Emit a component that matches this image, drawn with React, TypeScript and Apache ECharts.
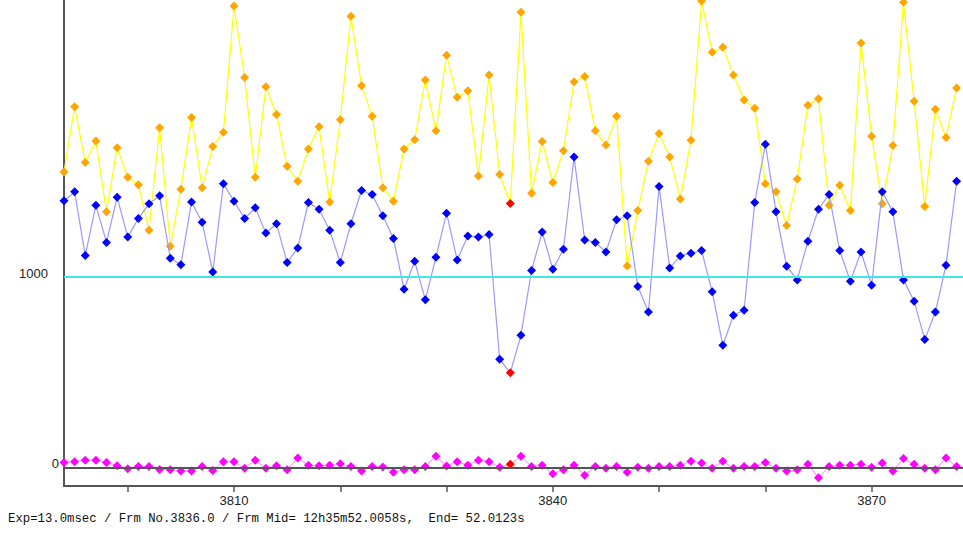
import React, { useEffect, useRef } from "react";
import * as echarts from "echarts";

const frames = [
  3794, 3795, 3796, 3797, 3798, 3799, 3800, 3801, 3802, 3803,
  3804, 3805, 3806, 3807, 3808, 3809, 3810, 3811, 3812, 3813,
  3814, 3815, 3816, 3817, 3818, 3819, 3820, 3821, 3822, 3823,
  3824, 3825, 3826, 3827, 3828, 3829, 3830, 3831, 3832, 3833,
  3834, 3835, 3836, 3837, 3838, 3839, 3840, 3841, 3842, 3843,
  3844, 3845, 3846, 3847, 3848, 3849, 3850, 3851, 3852, 3853,
  3854, 3855, 3856, 3857, 3858, 3859, 3860, 3861, 3862, 3863,
  3864, 3865, 3866, 3867, 3868, 3869, 3870, 3871, 3872, 3873,
  3874, 3875, 3876, 3877, 3878,
];

const upperValues = [
  1554, 1896, 1604, 1716, 1344, 1681, 1526, 1486, 1247, 1786,
  1163, 1463, 1840, 1470, 1688, 1763, 2426, 2051, 1526, 2002,
  1856, 1583, 1505, 1674, 1791, 1395, 1828, 2372, 2007, 1847,
  1470, 1400, 1674, 1723, 2037, 1770, 2168, 1946, 1981, 1533,
  2063, 1540, 1388, 2393, 1442, 1714, 1498, 1665, 2028, 2056,
  1770, 1695, 1847, 1059, 1351, 1610, 1756, 1632, 1412, 1721,
  2453, 2183, 2210, 2063, 1932, 1889, 1491, 1449, 1272, 1517,
  1904, 1938, 1379, 1484, 1351, 2232, 1742, 1386, 1693, 2446,
  1925, 1372, 1883, 1735, 1995,
];

const middleValues = [
  1402, 1449, 1114, 1379, 1183, 1421, 1212, 1309, 1386, 1428,
  1100, 1065, 1395, 1289, 1028, 1491, 1400, 1309, 1365, 1232,
  1281, 1077, 1154, 1393, 1358, 1247, 1077, 1281, 1456, 1435,
  1323, 1204, 937, 1084, 881, 1105, 1337, 1091, 1217, 1211,
  1225, 568, 498, 695, 1035, 1238, 1042, 1147, 1632, 1196,
  1183, 1133, 1302, 1323, 951, 817, 1477, 1049, 1112, 1126,
  1140, 923, 642, 800, 826, 1393, 1700, 1344, 1058, 986,
  1189, 1358, 1435, 1140, 979, 1133, 958, 1449, 1344, 986,
  874, 672, 817, 1063, 1505,
];

const lowerValues = [
  25, 30, 38, 38, 25, 9, -7, 4, 4, -11,
  -12, -19, -19, 4, -17, 30, 30, -5, 38, -5,
  9, -12, 49, 11, 9, 11, 19, 4, -19, 4,
  2, -26, -12, -12, 4, 59, 7, 30, 11, 38,
  30, 0, 17, 59, 4, 11, -33, -12, 11, -41,
  4, -5, 4, -26, 0, -5, 4, 4, 11, 32,
  23, -5, 32, -4, 4, 4, 25, -5, -19, -12,
  17, -54, 4, 11, 11, 17, 0, 23, -19, 46,
  17, -5, -12, 49, 4,
];

const currentFrame = 3836;
const xTicks = [3800, 3810, 3820, 3830, 3840, 3850, 3860, 3870];
const xLabels = [3810, 3840, 3870];
const yLabels = [0, 1000];
const referenceLevel = 1000;
const infoText =
  "Exp=13.0msec / Frm No.3836.0 / Frm Mid= 12h35m52.0058s,  End= 52.0123s";

function buildData(values: number[]) {
  return frames.map((f, i) => ({
    value: [f, values[i]],
    itemStyle: f === currentFrame ? { color: "#ff0000" } : undefined,
  }));
}

export default function App() {
  const ref = useRef<HTMLDivElement>(null);

  useEffect(() => {
    document.body.style.margin = "0";
    if (!ref.current) return;
    const chart = echarts.init(ref.current, undefined, { renderer: "svg" });
    const axisColor = "#555555";
    chart.setOption({
      animation: false,
      backgroundColor: "#ffffff",
      grid: { left: 64, right: 0, top: 0, bottom: 52, containLabel: false },
      graphic: [
        {
          type: "text",
          left: 8,
          top: 513,
          style: {
            text: infoText,
            fontFamily: "Liberation Mono, DejaVu Sans Mono, monospace",
            fontSize: 12.3,
            fill: "#111111",
          },
        },
      ],
      xAxis: {
        type: "value",
        min: 3794,
        max: 3878.6,
        splitLine: { show: false },
        axisLine: { show: true, onZero: false, lineStyle: { color: axisColor, width: 2 } },
        axisTick: {
          show: true,
          customValues: xTicks,
          length: 6,
          lineStyle: { color: axisColor, width: 1.5 },
        },
        axisLabel: {
          customValues: xLabels,
          formatter: (v: number) => String(v),
          color: "#222222",
          fontSize: 13,
          fontFamily: "Liberation Sans, Arial, sans-serif",
          margin: 8,
        },
      },
      yAxis: {
        type: "value",
        min: -98,
        max: 2458,
        splitLine: { show: false },
        axisLine: { show: true, onZero: false, lineStyle: { color: axisColor, width: 2 } },
        axisTick: { show: false },
        axisLabel: {
          customValues: yLabels,
          margin: 5,
          color: "#222222",
          fontSize: 13,
          fontFamily: "Liberation Sans, Arial, sans-serif",
          formatter: (v: number) => (v === 1000 ? "{a|1000}" : "{b|0}"),
          rich: {
            a: { padding: [0, 11, 8, 0], fontSize: 13, color: "#222222" },
            b: { padding: [0, 0, 8, 0], fontSize: 13, color: "#222222" },
          },
        },
      },
      series: [
        {
          name: "upper",
          type: "line",
          z: 2,
          data: buildData(upperValues),
          symbol: "diamond",
          symbolSize: 9,
          itemStyle: { color: "#ffa500" },
          lineStyle: { color: "#ffff00", width: 1.2 },
          markLine: {
            silent: true,
            symbol: "none",
            label: { show: false },
            data: [
              { yAxis: referenceLevel, lineStyle: { color: "#40e6ea", width: 2, type: "solid" } },
              { yAxis: 0, lineStyle: { color: axisColor, width: 2, type: "solid" } },
            ],
          },
        },
        {
          name: "middle",
          type: "line",
          z: 3,
          data: buildData(middleValues),
          symbol: "diamond",
          symbolSize: 9,
          itemStyle: { color: "#0000ff" },
          lineStyle: { color: "#9a9aff", width: 1.2 },
        },
        {
          name: "lower",
          type: "line",
          z: 4,
          data: buildData(lowerValues),
          symbol: "diamond",
          symbolSize: 9,
          itemStyle: { color: "#ff00ff" },
          lineStyle: { color: "#ffa0ff", width: 1.2 },
        },
      ],
    });
    return () => chart.dispose();
  }, []);

  return <div ref={ref} style={{ width: 963, height: 538 }} />;
}
